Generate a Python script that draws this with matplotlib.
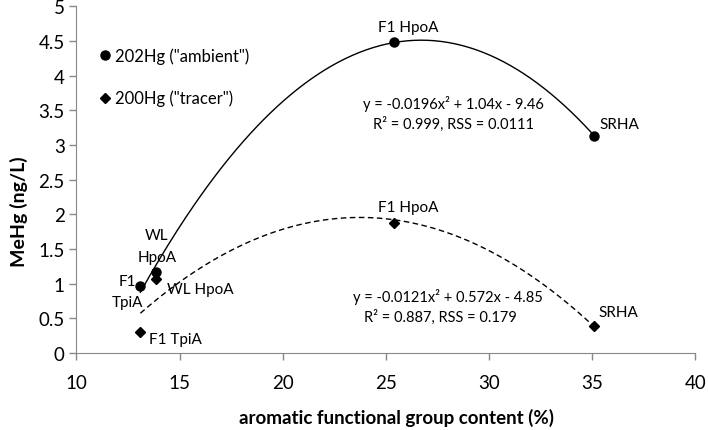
import numpy as np
import matplotlib
matplotlib.use("Agg")
import matplotlib.pyplot as plt
from matplotlib.lines import Line2D

# Data
samples = ["F1 TpiA", "WL HpoA", "F1 HpoA", "SRHA"]
aromatic = [13.1, 13.85, 25.4, 35.1]
hg202 = [0.96, 1.17, 4.49, 3.13]
hg200 = [0.30, 1.06, 1.88, 0.39]
eq202 = ["y = -0.0196x² + 1.04x - 9.46", "R² = 0.999, RSS = 0.0111"]
eq200 = ["y = -0.0121x² + 0.572x - 4.85", "R² = 0.887, RSS = 0.179"]
xticks = [10, 15, 20, 25, 30, 35, 40]
yticks = [0, 0.5, 1, 1.5, 2, 2.5, 3, 3.5, 4, 4.5, 5]

plt.rcParams['font.family'] = ['Lato', 'DejaVu Sans']
fig = plt.figure(figsize=(7.08, 4.31), dpi=100)
ax = fig.add_axes([0.108, 0.179, 0.874, 0.804])

x = np.array(aromatic)
xs = np.linspace(x.min(), x.max(), 200)
p1 = np.polyfit(x, hg202, 2)
p2 = np.polyfit(x, hg200, 2)
ax.plot(xs, np.polyval(p1, xs), color='black', lw=1.0)
ax.plot(xs, np.polyval(p2, xs), color='black', lw=1.0, ls=(0, (4, 2.5)))

ax.plot(x, hg202, 'o', color='black', ms=6.5, ls='none', zorder=3)
ax.plot(x, hg200, 'D', color='black', ms=5.5, ls='none', zorder=3)

ax.set_xlim(10, 40)
ax.set_ylim(0, 5)
ax.set_xticks(xticks)
ax.set_yticks(yticks)
ax.set_yticklabels([f"{v:g}" for v in yticks])
ax.tick_params(labelsize=13.5, color='#888888', length=5, width=1, direction='out')
ax.tick_params(axis='x', pad=10)
for s in ['top', 'right']:
    ax.spines[s].set_visible(False)
for s in ['left', 'bottom']:
    ax.spines[s].set_color('#888888')

ax.set_xlabel("aromatic functional group content (%)", fontsize=13.5, fontweight='bold')
ax.xaxis.set_label_coords(0.517, -0.158)
ax.set_ylabel("MeHg (ng/L)", fontsize=14, fontweight='bold')
ax.yaxis.set_label_coords(-0.079, 0.41)

fs = 11
def lab(text, px, py, dx, dy, ha='left'):
    ax.annotate(text, (px, py), xytext=(dx, dy), textcoords='offset pixels',
                ha=ha, va='center', fontsize=fs)

lab("F1 HpoA", x[2], hg202[2], 14, 15, 'center')
lab("F1 HpoA", x[2], hg200[2], 14, 16, 'center')
lab("SRHA", x[3], hg202[3], 5, 12)
lab("SRHA", x[3], hg200[3], 4, 14)
lab("WL", x[1], hg202[1], 1, 37, 'center')
lab("HpoA", x[1], hg202[1], 1, 15, 'center')
lab("F1", x[0], hg202[0], -4, 5, 'right')
lab("TpiA", x[0], hg202[0], -13, -16, 'center')
lab("WL HpoA", x[1], hg200[1], 11, -10)
lab("F1 TpiA", x[0], hg200[0], 9, -7)

# equations
efs = 10.5
ax.text(28.27, 3.60, eq202[0], ha='center', va='center', fontsize=efs)
ax.text(28.3, 3.31, eq202[1], ha='center', va='center', fontsize=efs)
ax.text(28.03, 0.815, eq200[0], ha='center', va='center', fontsize=efs)
ax.text(27.65, 0.527, eq200[1], ha='center', va='center', fontsize=efs)

handles = [Line2D([], [], marker='o', color='black', ls='none', ms=6.5),
           Line2D([], [], marker='D', color='black', ls='none', ms=5.5)]
ax.legend(handles, ['202Hg ("ambient")', '200Hg ("tracer")'], loc='upper left',
          bbox_to_anchor=(0.016, 0.915), frameon=False, fontsize=12, handlelength=0.8,
          handletextpad=0.2, labelspacing=1.55, borderpad=0.2)

fig.savefig("out.png", dpi=100)
